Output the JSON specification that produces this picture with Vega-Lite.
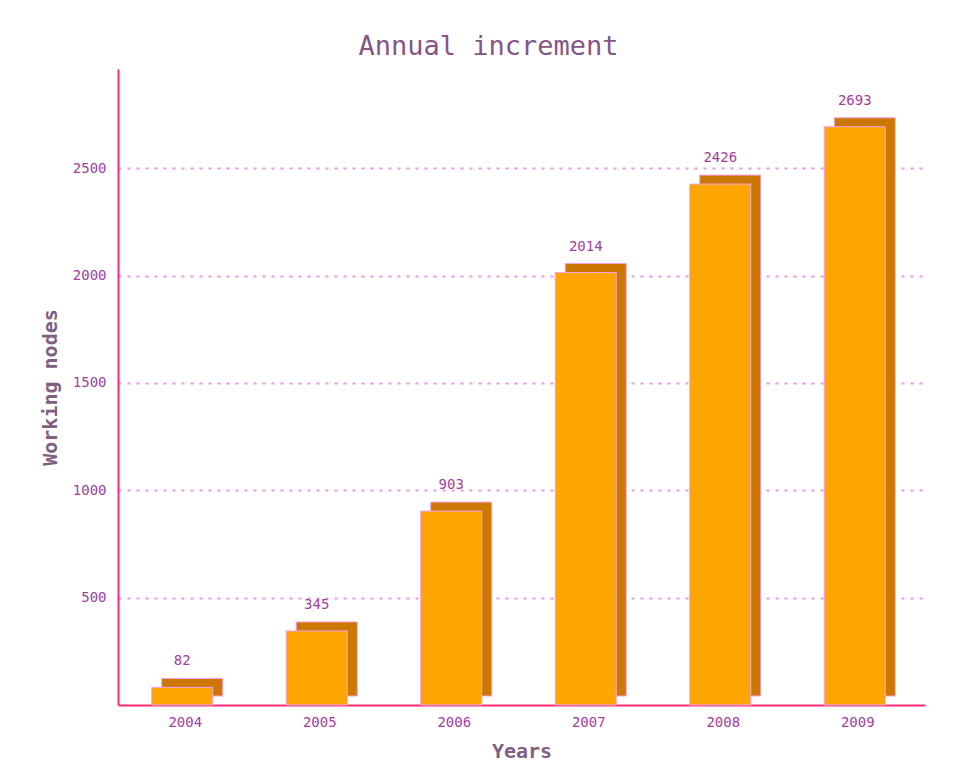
{
  "$schema": "https://vega.github.io/schema/vega-lite/v6.json",
  "autosize": "none",
  "width": 807,
  "height": 636,
  "padding": {"left": 118, "top": 69, "right": 34, "bottom": 71},
  "background": "white",
  "title": {
    "text": "Annual increment",
    "font": "DejaVu Sans Mono",
    "fontSize": 27,
    "fontWeight": "normal",
    "color": "#855585",
    "anchor": "middle",
    "dx": -33,
    "offset": 8
  },
  "data": {
    "values": [
      {"year": "2004", "nodes": 82},
      {"year": "2005", "nodes": 345},
      {"year": "2006", "nodes": 903},
      {"year": "2007", "nodes": 2014},
      {"year": "2008", "nodes": 2426},
      {"year": "2009", "nodes": 2693}
    ]
  },
  "encoding": {
    "x": {
      "field": "year",
      "type": "nominal",
      "scale": {"paddingInner": 0, "paddingOuter": 0},
      "axis": {
        "title": "Years",
        "labelAngle": 0,
        "ticks": false,
        "labelPadding": 10,
        "titlePadding": 12
      }
    },
    "y": {
      "field": "nodes",
      "type": "quantitative",
      "scale": {"domain": [0, 2962], "nice": false},
      "axis": {
        "title": "Working nodes",
        "values": [500, 1000, 1500, 2000, 2500],
        "format": "d",
        "ticks": false,
        "labelPadding": 12,
        "titlePadding": 12,
        "grid": true
      }
    }
  },
  "layer": [
    {
      "mark": {
        "type": "bar",
        "color": "#cc7700",
        "stroke": "#f2a2ee",
        "strokeWidth": 1,
        "width": {"band": 0.454},
        "xOffset": 7,
        "yOffset": -9
      }
    },
    {
      "mark": {
        "type": "bar",
        "color": "#ffa500",
        "stroke": "#f2a2ee",
        "strokeWidth": 1,
        "width": {"band": 0.454},
        "xOffset": -3
      }
    },
    {
      "mark": {
        "type": "text",
        "font": "DejaVu Sans Mono",
        "fontSize": 14,
        "color": "#a040a0",
        "baseline": "alphabetic",
        "dy": -22,
        "xOffset": -3
      },
      "encoding": {"text": {"field": "nodes", "type": "quantitative"}}
    }
  ],
  "config": {
    "view": {"stroke": null},
    "axis": {
      "domainColor": "#ff2a70",
      "domainWidth": 2,
      "labelFont": "DejaVu Sans Mono",
      "labelFontSize": 14,
      "labelColor": "#a040a0",
      "titleFont": "DejaVu Sans Mono",
      "titleFontSize": 20,
      "titleFontWeight": "bold",
      "titleColor": "#806080",
      "gridColor": "#e49ae4",
      "gridDash": [3, 6],
      "gridWidth": 2
    },
    "axisX": {"grid": false}
  }
}
